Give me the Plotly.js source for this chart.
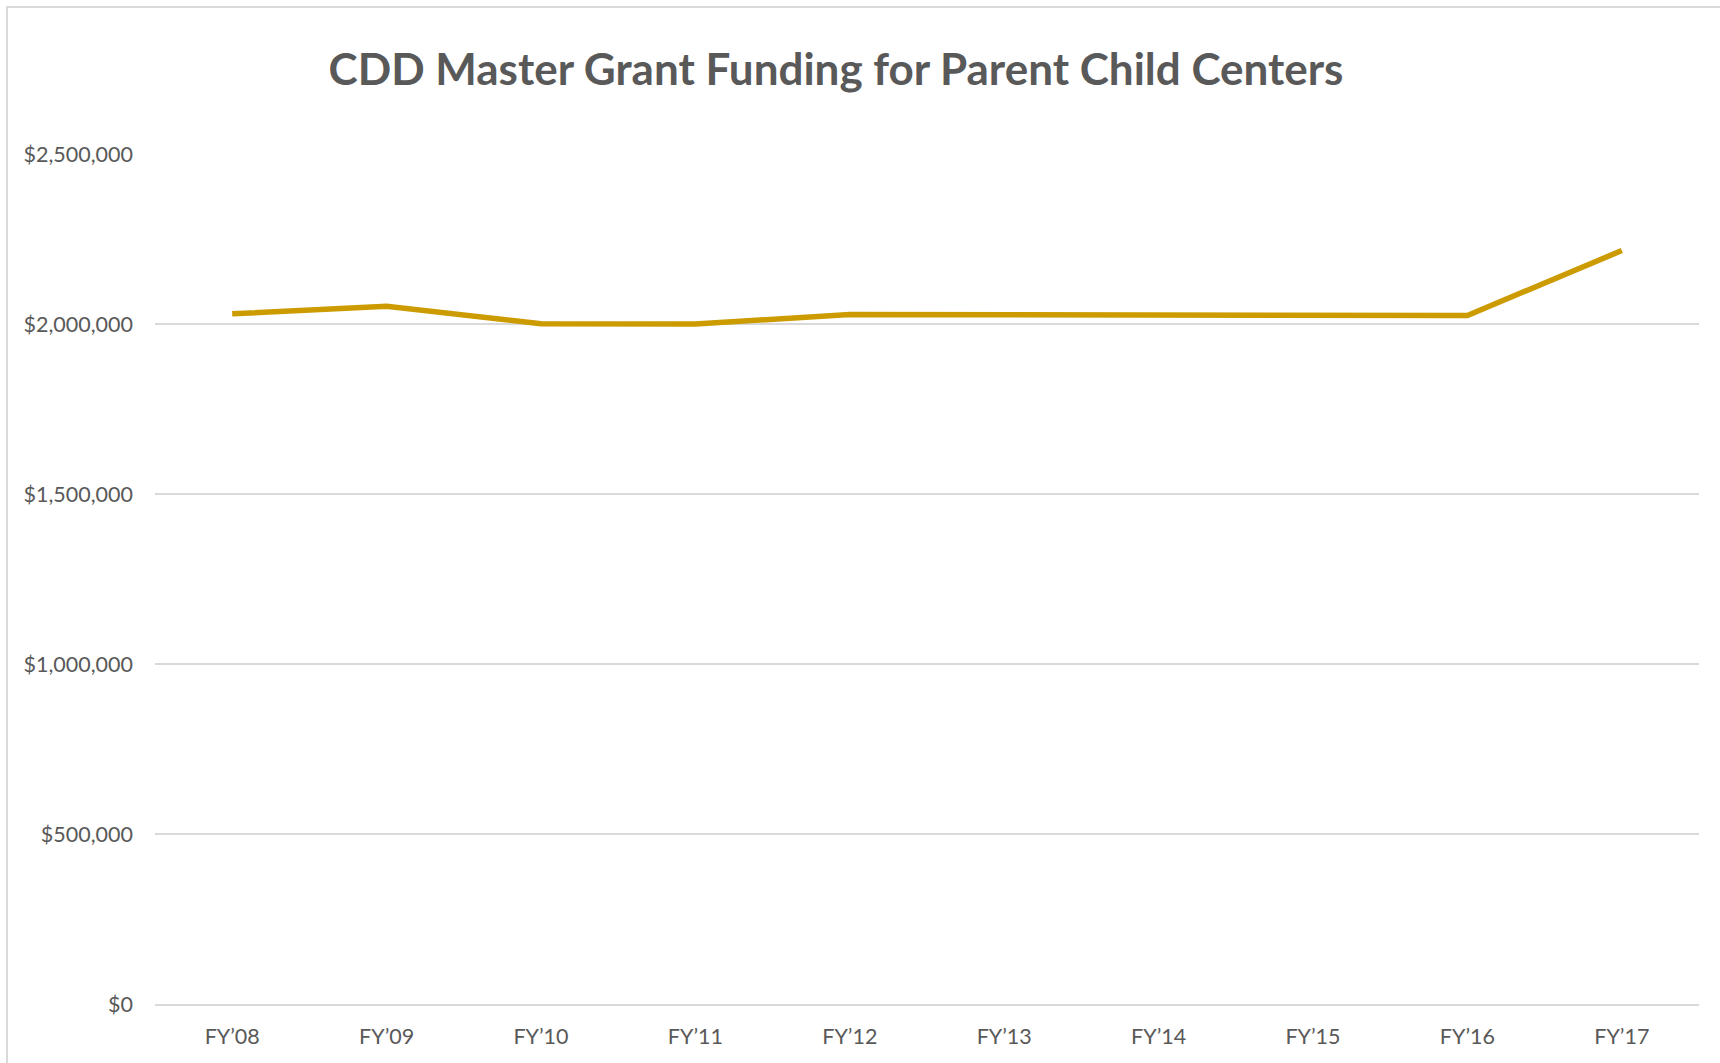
<!DOCTYPE html>
<html>
<head>
<meta charset="utf-8">
<script src="https://cdn.plot.ly/plotly-3.0.1.min.js"></script>
<style>
  html, body { margin: 0; padding: 0; background: #fff; }
  #frame { position: absolute; left: 6px; top: 6px; width: 1740px; height: 1080px;
           border-top: 2px solid #D9D9D9; border-left: 2px solid #D9D9D9; box-sizing: border-box; }
  #chart { position: absolute; left: 0; top: 0; width: 1720px; height: 1063px; }
</style>
</head>
<body>
<div id="frame"></div>
<div id="chart"></div>
<script>
const categories = ["FY’08", "FY’09", "FY’10", "FY’11", "FY’12", "FY’13", "FY’14", "FY’15", "FY’16", "FY’17"];
const funding = [2030000, 2052000, 2001000, 2000000, 2028000, 2028000, 2025000, 2025000, 2025000, 2216000];
const yTickVals = [0, 500000, 1000000, 1500000, 2000000, 2500000];
const yTickText = ["$0", "$500,000", "$1,000,000", "$1,500,000", "$2,000,000", "$2,500,000"];

const fontFam = "Lato, 'Open Sans', sans-serif";
const textColor = "#595959";

const trace = {
  type: "scatter",
  mode: "lines",
  x: categories,
  y: funding,
  line: { color: "#CC9B00", width: 5.5 },
  hoverinfo: "x+y"
};

const layout = {
  width: 1720,
  height: 1063,
  paper_bgcolor: "rgba(0,0,0,0)",
  plot_bgcolor: "rgba(0,0,0,0)",
  margin: { l: 155, r: 21, t: 154, b: 59 },
  showlegend: false,
  title: {
    text: "CDD Master Grant Funding for Parent Child Centers",
    font: { family: fontFam, size: 44, color: textColor, weight: 700 },
    x: 836 / 1720,
    xref: "container",
    xanchor: "center",
    y: 1 - 70 / 1063,
    yref: "container",
    yanchor: "middle"
  },
  xaxis: {
    type: "category",
    range: [-0.5, 9.5],
    showgrid: false,
    zeroline: false,
    showline: true,
    linecolor: "#D9D9D9",
    linewidth: 1.5,
    ticks: "",
    ticklabelstandoff: 12,
    tickfont: { family: fontFam, size: 21.5, color: textColor }
  },
  yaxis: {
    range: [0, 2500000],
    tickvals: yTickVals,
    ticktext: yTickText,
    showgrid: true,
    gridcolor: "#D9D9D9",
    gridwidth: 1.5,
    zeroline: false,
    showline: false,
    ticks: "",
    ticklabelstandoff: 21,
    tickfont: { family: fontFam, size: 21.5, color: textColor }
  }
};

Plotly.newPlot("chart", [trace], layout, { displayModeBar: false });
</script>
</body>
</html>
